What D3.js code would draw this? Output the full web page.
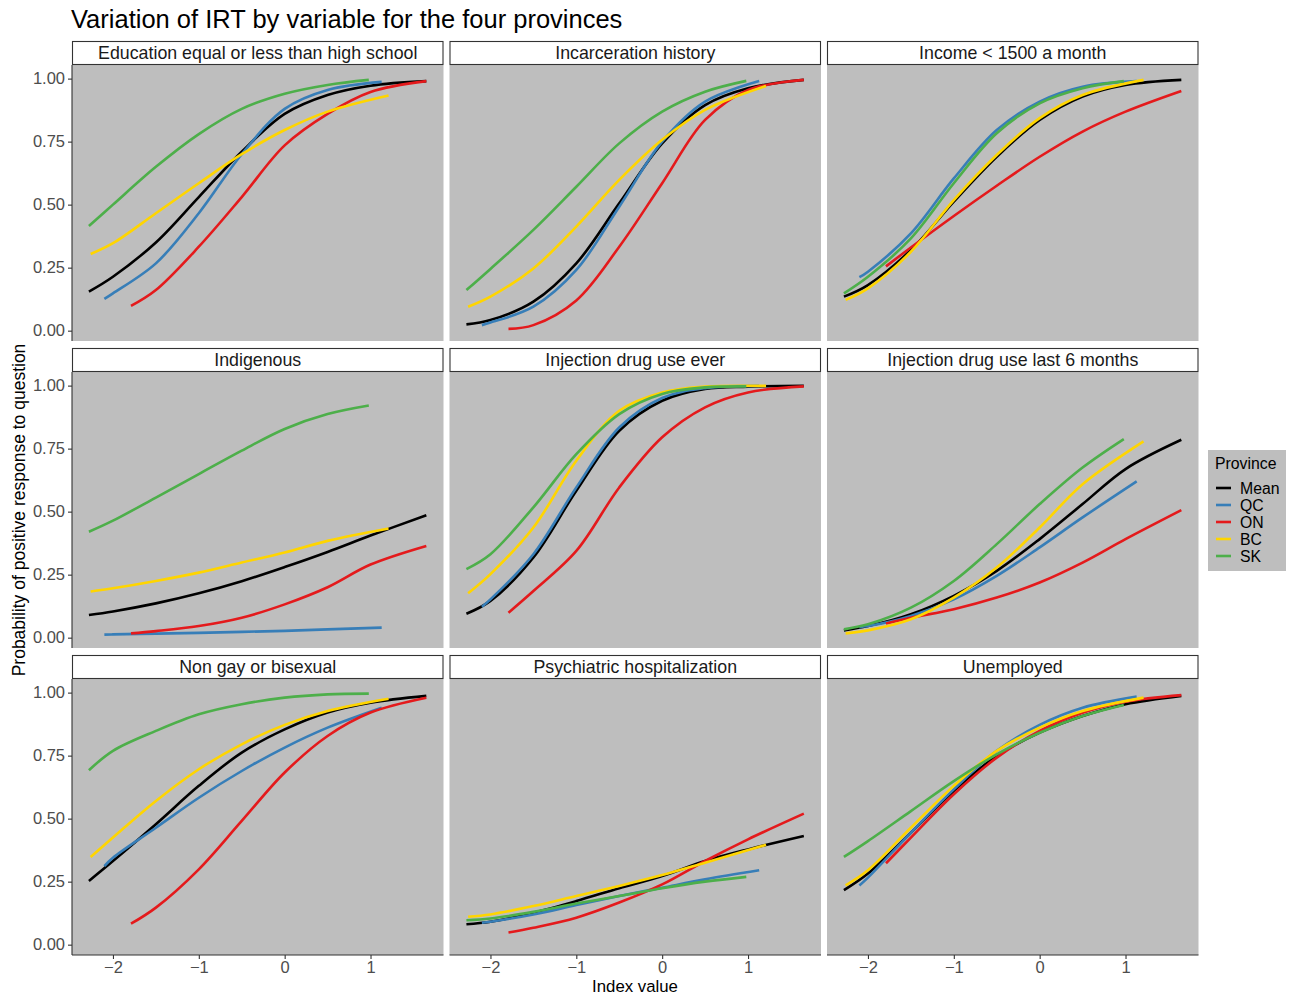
<!DOCTYPE html>
<html><head><meta charset="utf-8">
<script src="https://cdn.jsdelivr.net/npm/d3@7"></script>
<style>body{margin:0;background:#fff;} svg{display:block;font-family:"Liberation Sans",Arial,sans-serif;}</style>
</head><body><svg id="c" width="1295" height="995"></svg>
<script>
const panels = ["Education equal or less than high school","Incarceration history","Income < 1500 a month",
  "Indigenous","Injection drug use ever","Injection drug use last 6 months",
  "Non gay or bisexual","Psychiatric hospitalization","Unemployed"];
const provinces = ["Mean","QC","ON","BC","SK"];
const provinceColors = ["#000000","#377EB8","#E41A1C","#FFD500","#4DAF4A"];
const xTicks = [-2,-1,0,1];
const yTicks = [0,0.25,0.5,0.75,1];

// index values where each province's curve was read
const xMean = [-2.28,-2,-1.5,-1,-0.5,0,0.5,1,1.65];
const xQC   = [-2.1,-2,-1.5,-1,-0.5,0,0.5,1.13];
const xON   = [-1.79,-1.5,-1,-0.5,0,0.5,1,1.65];
const xBC   = [-2.26,-2,-1.5,-1,-0.5,0,0.5,1.21];
const xSK   = [-2.28,-2,-1.5,-1,-0.5,0,0.5,0.98];

// probabilities, one array per panel (in panel order) for each province
const meanVals = [
  [0.155,0.214,0.35,0.53,0.71,0.86,0.935,0.972,0.99],
  [0.025,0.042,0.115,0.267,0.505,0.743,0.895,0.962,0.995],
  [0.135,0.181,0.32,0.512,0.69,0.836,0.929,0.975,0.995],
  [0.09,0.104,0.136,0.176,0.224,0.28,0.34,0.405,0.486],
  [0.095,0.146,0.318,0.583,0.821,0.94,0.987,0.996,0.999],
  [0.029,0.046,0.093,0.166,0.265,0.391,0.53,0.669,0.785],
  [0.253,0.332,0.478,0.63,0.762,0.854,0.921,0.96,0.987],
  [0.081,0.091,0.127,0.173,0.224,0.272,0.332,0.378,0.431],
  [0.216,0.282,0.444,0.61,0.749,0.841,0.907,0.954,0.987]
];
const qcVals = [
  [0.126,0.148,0.267,0.466,0.70,0.88,0.955,0.987],
  [0.022,0.032,0.095,0.241,0.492,0.75,0.909,0.991],
  [0.212,0.234,0.386,0.604,0.796,0.909,0.968,0.99],
  [0.012,0.013,0.016,0.019,0.023,0.027,0.033,0.04],
  [0.123,0.152,0.331,0.596,0.834,0.951,0.99,0.999],
  [0.042,0.046,0.086,0.152,0.245,0.358,0.477,0.62],
  [0.312,0.345,0.464,0.583,0.689,0.782,0.861,0.94],
  [0.087,0.091,0.12,0.157,0.193,0.226,0.259,0.295],
  [0.235,0.266,0.444,0.616,0.769,0.872,0.94,0.984]
];
const onVals = [
  [0.098,0.161,0.333,0.53,0.735,0.86,0.947,0.99],
  [0.007,0.022,0.12,0.333,0.585,0.836,0.955,0.995],
  [0.255,0.33,0.455,0.575,0.69,0.79,0.869,0.951],
  [0.017,0.026,0.046,0.079,0.132,0.2,0.29,0.364],
  [0.099,0.185,0.344,0.596,0.795,0.914,0.973,0.997],
  [0.056,0.079,0.113,0.159,0.219,0.298,0.391,0.506],
  [0.083,0.147,0.299,0.491,0.683,0.828,0.921,0.98],
  [0.048,0.067,0.107,0.167,0.239,0.332,0.418,0.52],
  [0.323,0.425,0.597,0.742,0.848,0.92,0.964,0.99]
];
const bcVals = [
  [0.304,0.347,0.466,0.585,0.70,0.796,0.869,0.933],
  [0.095,0.135,0.247,0.413,0.598,0.757,0.876,0.971],
  [0.122,0.168,0.313,0.518,0.697,0.843,0.935,0.995],
  [0.183,0.196,0.225,0.258,0.298,0.338,0.384,0.433],
  [0.176,0.252,0.437,0.702,0.90,0.973,0.996,0.999],
  [0.017,0.029,0.073,0.159,0.278,0.437,0.609,0.779],
  [0.348,0.425,0.57,0.696,0.795,0.872,0.927,0.976],
  [0.111,0.12,0.153,0.193,0.233,0.276,0.325,0.396],
  [0.235,0.295,0.464,0.63,0.769,0.861,0.927,0.98]
];
const skVals = [
  [0.415,0.50,0.65,0.78,0.88,0.94,0.975,0.995],
  [0.161,0.245,0.40,0.571,0.743,0.869,0.948,0.991],
  [0.148,0.214,0.366,0.585,0.783,0.902,0.962,0.99],
  [0.42,0.464,0.556,0.649,0.742,0.828,0.887,0.921],
  [0.272,0.331,0.517,0.728,0.887,0.967,0.993,0.997],
  [0.033,0.053,0.119,0.225,0.371,0.53,0.675,0.788],
  [0.692,0.769,0.848,0.914,0.954,0.98,0.993,0.996],
  [0.097,0.104,0.13,0.163,0.193,0.224,0.25,0.269],
  [0.348,0.411,0.53,0.649,0.755,0.841,0.907,0.951]
];

const provX = [xMean,xQC,xON,xBC,xSK];
const provVals = [meanVals,qcVals,onVals,bcVals,skVals];

const svg = d3.select("#c");
const colLeft0 = 72, colStep = 377.5, panelW = 371.5;
const rowTop0 = 41, rowStep = 307, stripH = 24, panelH = 276;
const color = d3.scaleOrdinal().domain(provinces).range(provinceColors);
const tickFont = 16.5;

svg.append("text").attr("x",71).attr("y",28).attr("font-size",25.5).attr("fill","#000")
  .text("Variation of IRT by variable for the four provinces");

panels.forEach((name,i)=>{
  const r = Math.floor(i/3), c = i%3;
  const left = colLeft0 + c*colStep;
  const stripTop = rowTop0 + r*rowStep;
  const top = stripTop + stripH;
  const x = d3.scaleLinear().domain([-2.477,1.85]).range([left,left+panelW]);
  const y = d3.scaleLinear().domain([-0.041,1.054]).range([top+panelH,top]);
  const g = svg.append("g");
  g.append("rect").attr("x",left).attr("y",top).attr("width",panelW).attr("height",panelH).attr("fill","#BEBEBE");
  g.append("rect").attr("x",left+0.5).attr("y",stripTop+0.5).attr("width",panelW-1).attr("height",stripH-1)
    .attr("fill","#fff").attr("stroke","#333").attr("stroke-width",1.1);
  g.append("text").attr("x",left+panelW/2).attr("y",stripTop+18).attr("text-anchor","middle")
    .attr("font-size",17.8).attr("fill","#1A1A1A").text(name);
  provinces.forEach((p,k)=>{
    const xs = provX[k], vs = provVals[k][i];
    const pts = xs.map((xv,j)=>[xv,vs[j]]);
    g.append("path").datum(pts).attr("fill","none").attr("stroke",color(p)).attr("stroke-width",2.6)
      .attr("stroke-linecap","butt")
      .attr("d",d3.line().x(d=>x(d[0])).y(d=>y(d[1])).curve(d3.curveCatmullRom.alpha(0.5)));
  });
  if(c===0){
    const ax = g.append("g").attr("transform",`translate(${left},0)`)
      .call(d3.axisLeft(y).tickValues(yTicks).tickFormat(d3.format(".2f")).tickSize(4).tickPadding(3));
    ax.select(".domain").attr("stroke","#333").attr("stroke-width",1.1).attr("d",`M-0,${top+panelH}V${top}`);
    ax.selectAll(".tick line").attr("stroke","#333").attr("stroke-width",1.1);
    ax.selectAll(".tick text").attr("font-size",tickFont).attr("fill","#4D4D4D").attr("font-family","Liberation Sans, Arial, sans-serif");
  }
  if(r===2){
    const ax = g.append("g").attr("transform",`translate(0,${top+panelH})`)
      .call(d3.axisBottom(x).tickValues(xTicks).tickFormat(d=>d<0?"\u2212"+Math.abs(d):d).tickSize(4).tickPadding(2));
    ax.select(".domain").attr("stroke","#333").attr("stroke-width",1.1).attr("d",`M${left},0H${left+panelW}`);
    ax.selectAll(".tick line").attr("stroke","#333").attr("stroke-width",1.1);
    ax.selectAll(".tick text").attr("font-size",tickFont).attr("fill","#4D4D4D").attr("font-family","Liberation Sans, Arial, sans-serif");
  }
});

svg.append("text").attr("x",635).attr("y",991.5).attr("text-anchor","middle").attr("font-size",16.8).attr("fill","#000").text("Index value");
svg.append("text").attr("transform","translate(25,510) rotate(-90)").attr("text-anchor","middle").attr("font-size",17.5).attr("fill","#000")
  .text("Probability of positive response to question");

// legend
const lg = svg.append("g");
lg.append("rect").attr("x",1208).attr("y",450).attr("width",78).attr("height",121).attr("fill","#BEBEBE");
lg.append("text").attr("x",1215).attr("y",469).attr("font-size",15.8).attr("fill","#000").text("Province");
provinces.forEach((p,k)=>{
  const yy = 488 + k*17;
  lg.append("line").attr("x1",1216).attr("x2",1231).attr("y1",yy).attr("y2",yy).attr("stroke",color(p)).attr("stroke-width",2.6);
  lg.append("text").attr("x",1240).attr("y",yy+5.5).attr("font-size",15.8).attr("fill","#000").text(p);
});
</script></body></html>
